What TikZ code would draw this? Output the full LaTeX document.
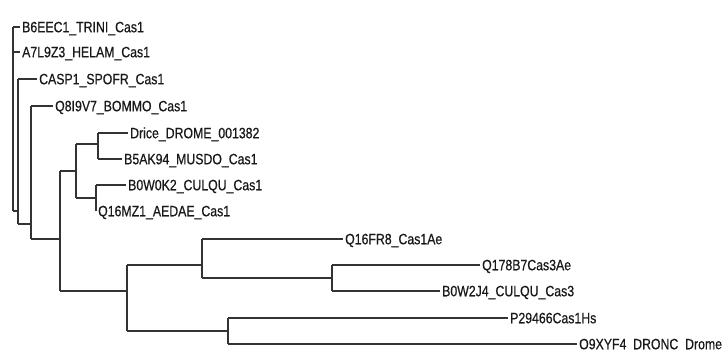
\documentclass[tikz,border=0pt]{standalone}
\usepackage{fontspec}
\newfontfamily\lblfont[FakeStretch=0.82,FakeBold=0.6]{Liberation Sans}
\begin{document}
\begin{tikzpicture}[x=1pt,y=-1pt,
  br/.style={draw=black!80, line width=1.2pt},
  lbl/.style={anchor=west, inner sep=0pt, xshift=2pt, text height=10.5pt, text depth=0pt,
    font=\lblfont\fontsize{15}{15}\selectfont, text=black!90}]
\useasboundingbox (0,0) rectangle (728,350);
% internal nodes (x of vertical, y where parent attaches)
\coordinate (R)   at (13,27);
\coordinate (N1)  at (18,211);
\coordinate (N2)  at (31,224);
\coordinate (N3)  at (60,239);
\coordinate (N4)  at (76,171);
\coordinate (N6)  at (98,144);
\coordinate (N7)  at (96,198);
\coordinate (N5)  at (127,291);
\coordinate (N8)  at (202,265);
\coordinate (N10) at (332,278);
\coordinate (N9)  at (228,331);
% leaf ends
\coordinate (a) at (20,27);
\coordinate (b) at (20,52);
\coordinate (c) at (37,79);
\coordinate (d) at (53,106);
\coordinate (e) at (128,133);
\coordinate (f) at (122,159);
\coordinate (g) at (126,185);
\coordinate (h) at (96,211);
\coordinate (i) at (343,239);
\coordinate (j) at (480,265);
\coordinate (k) at (440,291);
\coordinate (l) at (508,318);
\coordinate (m) at (577,344);
% verticals
\draw[br] (R |- a) -- (R |- N1);
\draw[br] (N1 |- c) -- (N1 |- N2);
\draw[br] (N2 |- d) -- (N2 |- N3);
\draw[br] (N3 |- N4) -- (N3 |- N5);
\draw[br] (N4 |- N6) -- (N4 |- N7);
\draw[br] (N6 |- e) -- (N6 |- f);
\draw[br] (N7 |- g) -- (N7 |- h);
\draw[br] (N5 |- N8) -- (N5 |- N9);
\draw[br] (N8 |- i) -- (N8 |- N10);
\draw[br] (N10 |- j) -- (N10 |- k);
\draw[br] (N9 |- l) -- (N9 |- m);
% horizontals
\draw[br] (R |- a) -- (a);
\draw[br] (R |- b) -- (b);
\draw[br] (R |- N1) -- (N1);
\draw[br] (N1 |- c) -- (c);
\draw[br] (N1 |- N2) -- (N2);
\draw[br] (N2 |- d) -- (d);
\draw[br] (N2 |- N3) -- (N3);
\draw[br] (N3 |- N4) -- (N4);
\draw[br] (N3 |- N5) -- (N5);
\draw[br] (N4 |- N6) -- (N6);
\draw[br] (N4 |- N7) -- (N7);
\draw[br] (N6 |- e) -- (e);
\draw[br] (N6 |- f) -- (f);
\draw[br] (N7 |- g) -- (g);
\draw[br] (N5 |- N8) -- (N8);
\draw[br] (N5 |- N9) -- (N9);
\draw[br] (N8 |- i) -- (i);
\draw[br] (N8 |- N10) -- (N10);
\draw[br] (N10 |- j) -- (j);
\draw[br] (N10 |- k) -- (k);
\draw[br] (N9 |- l) -- (l);
\draw[br] (N9 |- m) -- (m);
% labels
\node[lbl] (ta) at (a) {B6EEC1\_TRINI\_Cas1};
\node[lbl] (tb) at (b) {A7L9Z3\_HELAM\_Cas1};
\node[lbl] (tc) at (c) {CASP1\_SPOFR\_Cas1};
\node[lbl] (td) at (d) {Q8I9V7\_BOMMO\_Cas1};
\node[lbl] (te) at (e) {Drice\_DROME\_001382};
\node[lbl] (tf) at (f) {B5AK94\_MUSDO\_Cas1};
\node[lbl] (tg) at (g) {B0W0K2\_CULQU\_Cas1};
\node[lbl] (th) at (h) {Q16MZ1\_AEDAE\_Cas1};
\node[lbl] (ti) at (i) {Q16FR8\_Cas1Ae};
\node[lbl] (tj) at (j) {Q178B7Cas3Ae};
\node[lbl] (tk) at (k) {B0W2J4\_CULQU\_Cas3};
\node[lbl] (tl) at (l) {P29466Cas1Hs};
\node[lbl] (tm) at (m) {O9XYF4\_DRONC\_Drome};
\end{tikzpicture}
\end{document}
